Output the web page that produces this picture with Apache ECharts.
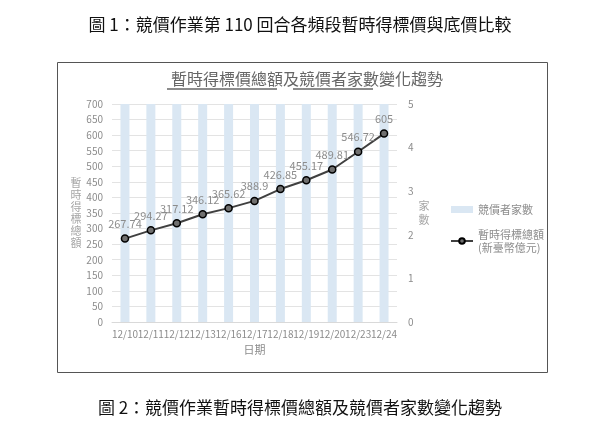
<!DOCTYPE html>
<html>
<head>
<meta charset="utf-8">
<script src="https://cdn.jsdelivr.net/npm/echarts@6/dist/echarts.min.js"></script>
<style>
  html, body { margin: 0; padding: 0; background: #fff; }
  #main { width: 600px; height: 435px; }
</style>
</head>
<body>
<div id="main"></div>
<script>
// 日期
var dates = ['12/10', '12/11', '12/12', '12/13', '12/16', '12/17', '12/18', '12/19', '12/20', '12/23', '12/24'];
// 暫時得標總額（新臺幣億元）
var totals = [267.74, 294.27, 317.12, 346.12, 365.62, 388.9, 426.85, 455.17, 489.81, 546.72, 605];
// 競價者家數
var bidders = [5, 5, 5, 5, 5, 5, 5, 5, 5, 5, 5];

var FONT = '"Noto Sans CJK TC", "Noto Sans", sans-serif';
var GREY = '#8c8c8c';

var chart = echarts.init(document.getElementById('main'));
var option = {
  backgroundColor: '#fff',
  textStyle: { fontFamily: FONT },
  animation: false,
  title: [
    {
      text: '圖 1：競價作業第 110 回合各頻段暫時得標價與底價比較',
      left: 'center', top: 11,
      textStyle: { fontSize: 17, fontWeight: 'normal', color: '#111', fontFamily: FONT }
    },
    {
      text: '暫時得標價總額及競價者家數變化趨勢',
      left: 302, top: 66, textAlign: 'center',
      textStyle: { fontSize: 16, fontWeight: 'normal', color: '#666', fontFamily: FONT }
    },
    {
      text: '圖 2：競價作業暫時得標價總額及競價者家數變化趨勢',
      left: 'center', top: 394,
      textStyle: { fontSize: 17, fontWeight: 'normal', color: '#111', fontFamily: FONT }
    }
  ],
  graphic: [
    { type: 'rect', shape: { x: 57.5, y: 62.5, width: 490, height: 310 },
      style: { fill: 'none', stroke: '#555', lineWidth: 1 }, silent: true },
    { type: 'line', shape: { x1: 167, y1: 89, x2: 277, y2: 89 },
      style: { stroke: '#8c8c8c', lineWidth: 2 } },
    { type: 'line', shape: { x1: 293, y1: 89, x2: 373, y2: 89 },
      style: { stroke: '#8c8c8c', lineWidth: 2 } }
  ],
  legend: {
    orient: 'vertical',
    left: 445, top: 198,
    itemGap: 12,
    itemWidth: 22, itemHeight: 7,
    textStyle: { color: GREY, fontSize: 11, lineHeight: 13 },
    data: [
      { name: '競價者家數', icon: 'rect', itemStyle: { color: '#dae7f3' } },
      { name: '暫時得標總額\n(新臺幣億元)' }
    ]
  },
  grid: { left: 112, right: 203, top: 104, bottom: 113 },
  xAxis: {
    type: 'category',
    data: dates,
    name: '日期',
    nameLocation: 'middle',
    nameGap: 22,
    nameTextStyle: { color: GREY, fontSize: 11 },
    axisLine: { lineStyle: { color: '#d9d9d9' } },
    axisTick: { show: false },
    axisLabel: { color: GREY, fontSize: 10, interval: 0, margin: 7 }
  },
  yAxis: [
    {
      type: 'value',
      min: 0, max: 700, interval: 50,
      name: '暫\n時\n得\n標\n總\n額',
      nameLocation: 'middle',
      nameRotate: 0,
      nameGap: 30,
      nameTextStyle: { color: '#a6a6a6', fontSize: 11, lineHeight: 12 },
      axisLine: { show: false },
      axisTick: { show: false },
      axisLabel: { color: GREY, fontSize: 10, margin: 9 },
      splitLine: { lineStyle: { color: '#e3e3e3' } }
    },
    {
      type: 'value',
      min: 0, max: 5, interval: 1,
      name: '家\n數',
      nameLocation: 'middle',
      nameRotate: 0,
      nameGap: 19,
      nameTextStyle: { color: '#a6a6a6', fontSize: 11, lineHeight: 14 },
      axisLine: { show: false },
      axisTick: { show: false },
      axisLabel: { color: GREY, fontSize: 10, margin: 11 },
      splitLine: { show: false }
    }
  ],
  series: [
    {
      name: '競價者家數',
      type: 'bar',
      yAxisIndex: 1,
      data: bidders,
      barWidth: 9,
      itemStyle: { color: '#dae7f3' }
    },
    {
      name: '暫時得標總額\n(新臺幣億元)',
      type: 'line',
      yAxisIndex: 0,
      data: totals,
      symbol: 'circle',
      symbolSize: 7,
      lineStyle: { color: '#404040', width: 2 },
      itemStyle: { color: '#6f6f6f', borderColor: '#000', borderWidth: 1.5 },
      label: { show: true, position: 'top', distance: 5, color: GREY, fontSize: 11 }
    }
  ]
};
chart.setOption(option);
</script>
</body>
</html>
